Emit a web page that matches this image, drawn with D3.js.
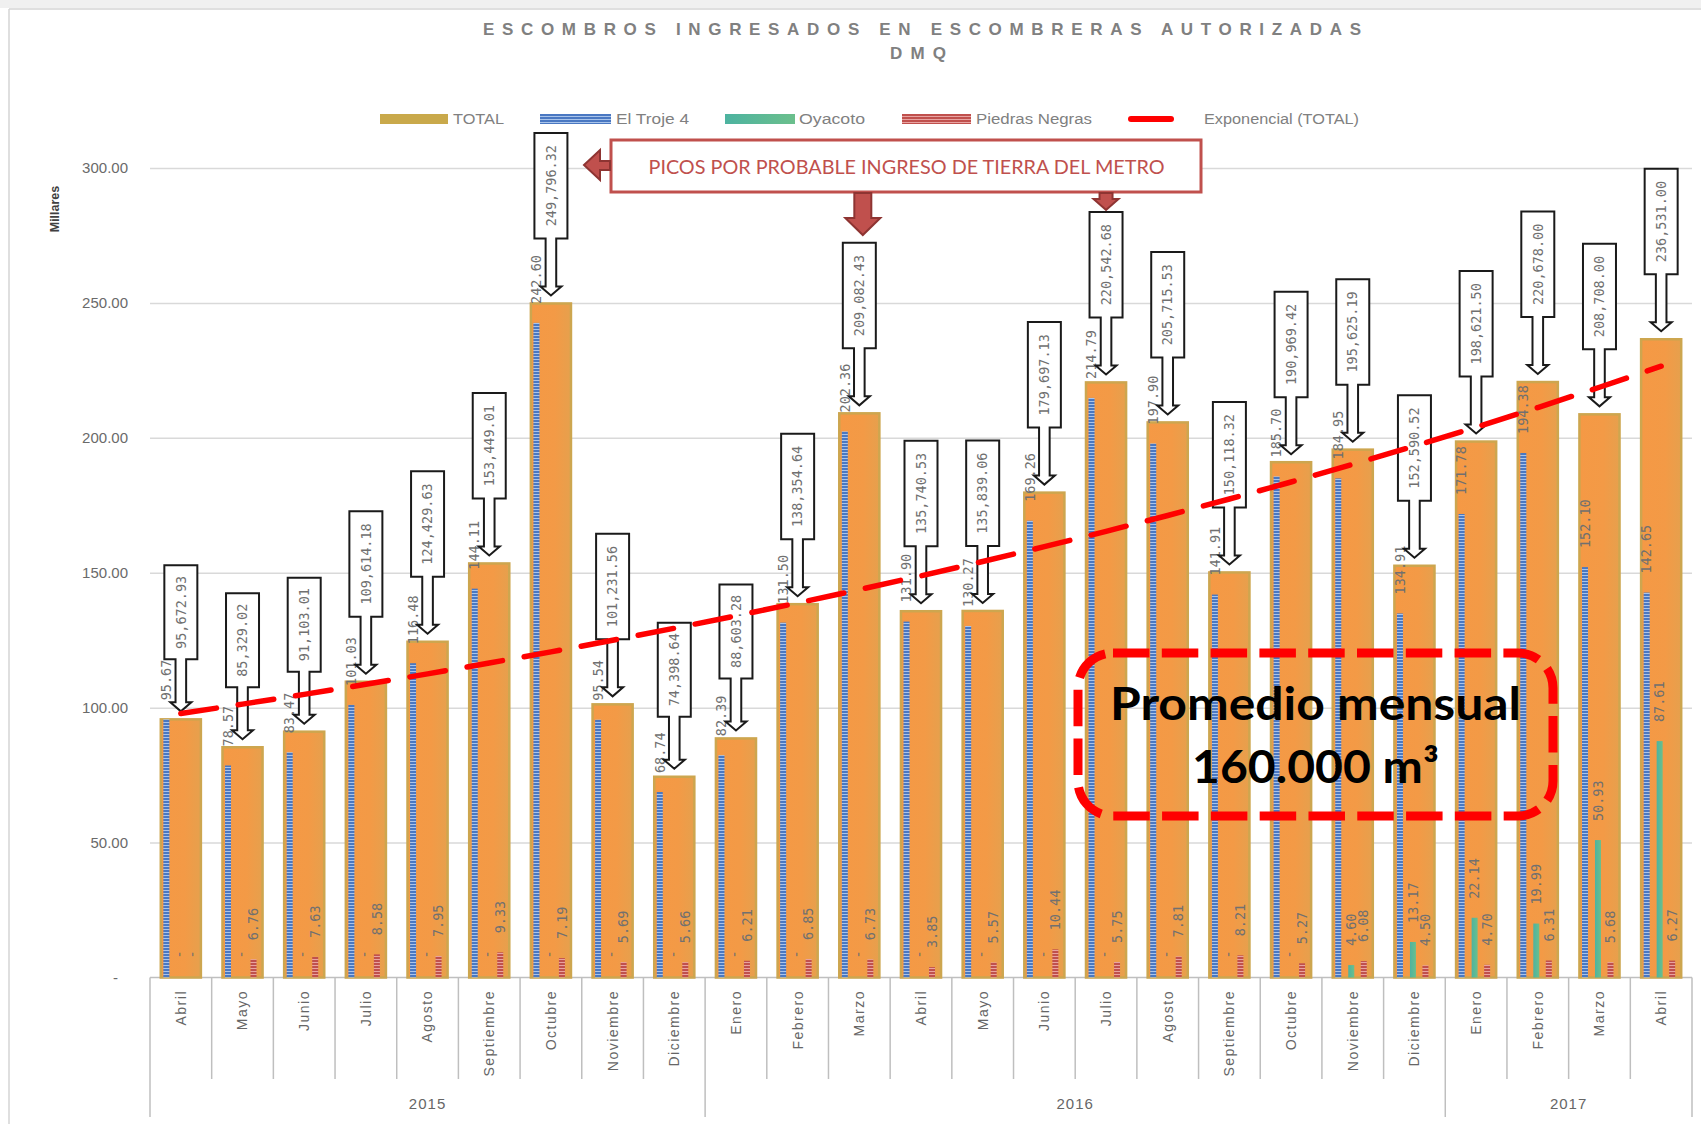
<!DOCTYPE html>
<html>
<head>
<meta charset="utf-8">
<script src="https://cdn.jsdelivr.net/npm/d3@7"></script>
<style>
  body { margin: 0; background: #ffffff; }
  svg { display: block; }
</style>
</head>
<body>
<svg id="chart" width="1701" height="1124"></svg>
<script>
// ---------------------------------------------------------------
// Data: escombros ingresados por mes (abril 2015 – abril 2017)
// ---------------------------------------------------------------
const months = ["Abril", "Mayo", "Junio", "Julio", "Agosto", "Septiembre", "Octubre", "Noviembre", "Diciembre",
  "Enero", "Febrero", "Marzo", "Abril", "Mayo", "Junio", "Julio", "Agosto", "Septiembre", "Octubre", "Noviembre", "Diciembre",
  "Enero", "Febrero", "Marzo", "Abril"];
const yearLabels = ["2015", "2016", "2017"];
const monthsPerYear = [9, 12, 4];

// TOTAL mensual (m³)
const totalValues = [95672.93, 85329.02, 91103.01, 109614.18, 124429.63, 153449.01, 249796.32, 101231.56, 74398.64,
  88603.28, 138354.64, 209082.43, 135740.53, 135839.06, 179697.13, 220542.68, 205715.53, 150118.32, 190969.42, 195625.19, 152590.52,
  198621.50, 220678.00, 208708.00, 236531.00];
// Por escombrera (miles de m³)
const elTroje4 = [95.67, 78.57, 83.47, 101.03, 116.48, 144.11, 242.60, 95.54, 68.74,
  82.39, 131.50, 202.36, 131.90, 130.27, 169.26, 214.79, 197.90, 141.91, 185.70, 184.95, 134.91,
  171.78, 194.38, 152.10, 142.65];
const oyacoto = [0, 0, 0, 0, 0, 0, 0, 0, 0,
  0, 0, 0, 0, 0, 0, 0, 0, 0, 0, 4.60, 13.17,
  22.14, 19.99, 50.93, 87.61];
const piedrasNegras = [0, 6.76, 7.63, 8.58, 7.95, 9.33, 7.19, 5.69, 5.66,
  6.21, 6.85, 6.73, 3.85, 5.57, 10.44, 5.75, 7.81, 8.21, 5.27, 6.08, 4.50,
  4.70, 6.31, 5.68, 6.27];
const yTicks = [0, 50, 100, 150, 200, 250, 300];
const legendNames = ["TOTAL", "El Troje 4", "Oyacoto", "Piedras Negras", "Exponencial (TOTAL)"];

// ---------------------------------------------------------------
// Layout
// ---------------------------------------------------------------
const plot = { left: 150, right: 1692, top: 168, bottom: 977.5 };
const numFont = "'DejaVu Sans Mono', monospace";
const textFont = "'Liberation Sans', Arial, sans-serif";
const grey = "#595959";

const svg = d3.select("#chart");
const defs = svg.append("defs");

function stripePattern(id, base, light) {
  const p = defs.append("pattern").attr("id", id)
    .attr("patternUnits", "userSpaceOnUse").attr("width", 8).attr("height", 3);
  p.append("rect").attr("width", 8).attr("height", 3).attr("fill", base);
  p.append("rect").attr("y", 2).attr("width", 8).attr("height", 1).attr("fill", light);
}
stripePattern("stripeBlue", "#4A78C2", "#A9C4EA");
stripePattern("stripeRed", "#C0504D", "#E8A3A1");

const totGrad = defs.append("linearGradient").attr("id", "totalFill")
  .attr("x1", 0).attr("x2", 1).attr("y1", 0).attr("y2", 0);
totGrad.append("stop").attr("offset", 0).attr("stop-color", "#F59945");
totGrad.append("stop").attr("offset", 0.6).attr("stop-color", "#F39A46");
totGrad.append("stop").attr("offset", 1).attr("stop-color", "#E6A04D");

const oyaGrad = defs.append("linearGradient").attr("id", "oyaFill")
  .attr("x1", 0).attr("x2", 1).attr("y1", 0).attr("y2", 0);
oyaGrad.append("stop").attr("offset", 0).attr("stop-color", "#4DB3A0");
oyaGrad.append("stop").attr("offset", 1).attr("stop-color", "#6BBF8C");

// chart frame
svg.append("rect").attr("x", 0).attr("y", 0).attr("width", 1701).attr("height", 8).attr("fill", "#f0f0f0");
svg.append("line").attr("x1", 9).attr("x2", 1701).attr("y1", 9).attr("y2", 9).attr("stroke", "#d4d4d4").attr("stroke-width", 1.5);
svg.append("line").attr("x1", 9).attr("x2", 9).attr("y1", 9).attr("y2", 1124).attr("stroke", "#d4d4d4").attr("stroke-width", 1.5);

// ---------------------------------------------------------------
// Scales
// ---------------------------------------------------------------
const x = d3.scaleBand().domain(d3.range(months.length)).range([plot.left, plot.right]).padding(0);
const y = d3.scaleLinear().domain([0, 300]).range([plot.bottom, plot.top]);
const bw = x.bandwidth();
const cx = i => x(i) + bw / 2;

// ---------------------------------------------------------------
// Title
// ---------------------------------------------------------------
const titleFont = "'Liberation Sans Narrow', 'Liberation Sans', sans-serif";
svg.append("text").attr("x", 922).attr("y", 35).attr("text-anchor", "middle")
  .attr("font-family", titleFont).attr("font-size", 17).attr("font-weight", "bold")
  .attr("fill", "#808080").attr("textLength", 878).attr("lengthAdjust", "spacing")
  .text("ESCOMBROS INGRESADOS  EN ESCOMBRERAS AUTORIZADAS");
svg.append("text").attr("x", 918).attr("y", 59).attr("text-anchor", "middle")
  .attr("font-family", titleFont).attr("font-size", 17).attr("font-weight", "bold")
  .attr("fill", "#808080").attr("textLength", 56).attr("lengthAdjust", "spacing")
  .text("DMQ");

// ---------------------------------------------------------------
// Legend
// ---------------------------------------------------------------
const legendLayout = [
  { sx: 380, sw: 68, tx: 453, tw: 51 },
  { sx: 540, sw: 71, tx: 616, tw: 73 },
  { sx: 725, sw: 70, tx: 799, tw: 66 },
  { sx: 902, sw: 69, tx: 976, tw: 116 },
  { sx: 1128, sw: 46, tx: 1204, tw: 155 }
];
const legendFills = ["#C9A94B", "url(#stripeBlue)", "url(#oyaFill)", "url(#stripeRed)", null];
const legendY = 119;
legendNames.forEach((name, k) => {
  const L = legendLayout[k];
  if (legendFills[k]) {
    svg.append("rect").attr("x", L.sx).attr("y", legendY - 5).attr("width", L.sw).attr("height", 10)
      .attr("fill", legendFills[k]);
  } else {
    svg.append("line").attr("x1", L.sx + 3).attr("x2", L.sx + L.sw - 3).attr("y1", legendY).attr("y2", legendY)
      .attr("stroke", "#FF0000").attr("stroke-width", 6).attr("stroke-linecap", "round");
  }
  svg.append("text").attr("x", L.tx).attr("y", legendY + 5).attr("font-family", textFont)
    .attr("font-size", 14).attr("fill", "#808080").attr("textLength", L.tw).attr("lengthAdjust", "spacingAndGlyphs")
    .text(name);
});

// ---------------------------------------------------------------
// Y axis with gridlines
// ---------------------------------------------------------------
const yAxis = svg.append("g").attr("transform", `translate(${plot.left},0)`)
  .call(d3.axisLeft(y).tickValues(yTicks)
    .tickSize(-(plot.right - plot.left)).tickPadding(22)
    .tickFormat(v => v === 0 ? "-" : d3.format(".2f")(v)));
yAxis.select(".domain").remove();
yAxis.selectAll(".tick line").attr("stroke", "#d9d9d9").attr("stroke-width", 1.5)
  .filter(d => d === 0).remove();
yAxis.selectAll(".tick text").attr("font-family", textFont).attr("font-size", 15).attr("fill", "#6a6a6a");
yAxis.selectAll(".tick text").filter(d => d === 0).attr("dx", -10);

svg.append("text").attr("transform", "translate(59,209) rotate(-90)").attr("text-anchor", "middle")
  .attr("font-family", textFont).attr("font-size", 12.5).attr("font-weight", "bold").attr("fill", "#404040")
  .text("Millares");

// ---------------------------------------------------------------
// X axis: months and years
// ---------------------------------------------------------------
svg.append("line").attr("x1", plot.left).attr("x2", plot.right).attr("y1", plot.bottom).attr("y2", plot.bottom)
  .attr("stroke", "#bfbfbf").attr("stroke-width", 1.5);

const yearStarts = [0];
monthsPerYear.forEach((c, k) => yearStarts.push(yearStarts[k] + c));
d3.range(months.length + 1).forEach(i => {
  const xx = i < months.length ? x(i) : plot.right;
  const isYear = yearStarts.includes(i);
  svg.append("line").attr("x1", xx).attr("x2", xx).attr("y1", plot.bottom).attr("y2", isYear ? 1117 : 1079)
    .attr("stroke", "#bfbfbf").attr("stroke-width", 1.5);
});
svg.append("g").selectAll("text").data(months).join("text")
  .attr("transform", (d, i) => `translate(${cx(i)},990) rotate(-90)`)
  .attr("dy", "0.35em").attr("text-anchor", "end")
  .attr("font-family", textFont).attr("font-size", 14).attr("letter-spacing", 1.5).attr("fill", "#666666")
  .text(d => d);
yearLabels.forEach((yr, k) => {
  const x0 = x(yearStarts[k]);
  const x1 = yearStarts[k + 1] < months.length ? x(yearStarts[k + 1]) : plot.right;
  svg.append("text").attr("x", (x0 + x1) / 2).attr("y", 1109).attr("text-anchor", "middle")
    .attr("font-family", textFont).attr("font-size", 15).attr("letter-spacing", 1).attr("fill", "#666666")
    .text(yr);
});

// ---------------------------------------------------------------
// Bars
// ---------------------------------------------------------------
const totalK = totalValues.map(v => v / 1000);
const totalW = bw * 0.65;
svg.append("g").selectAll("rect").data(totalK).join("rect")
  .attr("x", (d, i) => cx(i) - totalW / 2).attr("width", totalW)
  .attr("y", d => y(d)).attr("height", d => y(0) - y(d))
  .attr("fill", "url(#totalFill)").attr("stroke", "#CDA64F").attr("stroke-width", 2.5);

const innerW = 6;
const series = [
  { values: elTroje4, offset: -14.5, fill: "url(#stripeBlue)" },
  { values: oyacoto, offset: -1.5, fill: "url(#oyaFill)" },
  { values: piedrasNegras, offset: 11, fill: "url(#stripeRed)" }
];
series.forEach(s => {
  svg.append("g").selectAll("rect").data(s.values).join("rect")
    .attr("x", (d, i) => cx(i) + s.offset - innerW / 2).attr("width", innerW)
    .attr("y", d => y(d)).attr("height", d => y(0) - y(d))
    .attr("fill", s.fill);
});
series.forEach(s => {
  svg.append("g").selectAll("text").data(s.values).join("text")
    .attr("transform", (d, i) => `translate(${cx(i) + s.offset},${y(d) - 19}) rotate(-90)`)
    .attr("dy", "0.35em").attr("text-anchor", "start")
    .attr("font-family", numFont).attr("font-size", 13.5).attr("fill", "#707070")
    .text(d => d === 0 ? "-" : d3.format(".2f")(d));
});

// ---------------------------------------------------------------
// Callouts with the monthly total
// ---------------------------------------------------------------
const calloutFmt = d3.format(",.2f");
const callouts = svg.append("g");
totalK.forEach((v, i) => {
  const label = calloutFmt(totalValues[i]);
  const n = label.length;
  const boxH = 11.5 * n - 9.5;
  const lift = n > 9 ? 65 : 60;
  const c = cx(i);
  const top = y(v);
  const tip = top - 8;
  const bBot = top - lift;
  const bTop = bBot - boxH;
  const hw = 16.5, sw = 5.3, hh = 10.5, headH = 9;
  const p = `M${c - hw},${bTop}H${c + hw}V${bBot}H${c + sw}V${tip - headH}H${c + hh}L${c},${tip}` +
    `L${c - hh},${tip - headH}H${c - sw}V${bBot}H${c - hw}Z`;
  callouts.append("path").attr("d", p).attr("fill", "#ffffff").attr("stroke", "#1a1a1a")
    .attr("stroke-width", 2).attr("stroke-linejoin", "miter");
  callouts.append("text").attr("transform", `translate(${c},${(bTop + bBot) / 2}) rotate(-90)`)
    .attr("dy", "0.35em").attr("text-anchor", "middle")
    .attr("font-family", numFont).attr("font-size", 13.5).attr("fill", "#707070")
    .text(label);
});

// ---------------------------------------------------------------
// Exponential trend of TOTAL (least squares on ln y)
// ---------------------------------------------------------------
const tIdx = d3.range(1, totalK.length + 1);
const lnY = totalK.map(v => Math.log(v));
const mT = d3.mean(tIdx), mL = d3.mean(lnY);
const slope = d3.sum(tIdx, (t, k) => (t - mT) * (lnY[k] - mL)) / d3.sum(tIdx, t => (t - mT) ** 2);
const coef = Math.exp(mL - slope * mT);
const trendPts = tIdx.map((t, k) => [cx(k), y(coef * Math.exp(slope * t))]);
svg.append("path").attr("d", d3.line()(trendPts)).attr("fill", "none")
  .attr("stroke", "#FF0000").attr("stroke-width", 5.5).attr("stroke-linecap", "round")
  .attr("stroke-dasharray", "36 22");

// ---------------------------------------------------------------
// Annotation: peaks
// ---------------------------------------------------------------
const ann = svg.append("g");
const arrowFill = "#C0504D", arrowLine = "#8E3432";
ann.append("rect").attr("x", 611).attr("y", 140).attr("width", 590).attr("height", 52)
  .attr("fill", "#ffffff").attr("stroke", "#C0504D").attr("stroke-width", 3);
ann.append("text").attr("x", 906.5).attr("y", 173.5).attr("text-anchor", "middle")
  .attr("font-family", "Lato, 'Open Sans', sans-serif").attr("font-size", 19.5).attr("fill", "#C0504D")
  .attr("textLength", 516).attr("lengthAdjust", "spacingAndGlyphs")
  .text("PICOS POR PROBABLE INGRESO DE TIERRA DEL METRO");
// left arrow towards October 2015
ann.append("path").attr("d", "M584,165L600,150V161H610V170H600V180Z")
  .attr("fill", arrowFill).attr("stroke", arrowLine).attr("stroke-width", 2);
// down arrows towards March and July 2016
function downArrow(c, y0, shaftEnd, tipY, sw, hw) {
  return `M${c - sw},${y0}H${c + sw}V${shaftEnd}H${c + hw}L${c},${tipY}L${c - hw},${shaftEnd}H${c - sw}Z`;
}
ann.append("path").attr("d", downArrow(cx(11) + 3.5, 193, 218, 235, 8.5, 17.5))
  .attr("fill", arrowFill).attr("stroke", arrowLine).attr("stroke-width", 2);
ann.append("path").attr("d", downArrow(cx(15), 193, 199, 210, 6.5, 12.5))
  .attr("fill", arrowFill).attr("stroke", arrowLine).attr("stroke-width", 2);

// ---------------------------------------------------------------
// Monthly average note
// ---------------------------------------------------------------
const note = svg.append("g");
note.append("rect").attr("x", 1078).attr("y", 653).attr("width", 475).attr("height", 163)
  .attr("rx", 35).attr("ry", 35).attr("fill", "none")
  .attr("stroke", "#FF0000").attr("stroke-width", 9).attr("stroke-dasharray", "36.5 12.3");
note.append("text").attr("x", 1315.5).attr("y", 720).attr("text-anchor", "middle")
  .attr("font-family", "Lato, 'Open Sans', sans-serif").attr("font-weight", 700).attr("font-size", 45)
  .attr("fill", "#000000").attr("textLength", 411).attr("lengthAdjust", "spacingAndGlyphs")
  .text("Promedio mensual");
note.append("text").attr("x", 1315.5).attr("y", 783).attr("text-anchor", "middle")
  .attr("font-family", "Lato, 'Open Sans', sans-serif").attr("font-weight", 700).attr("font-size", 45)
  .attr("fill", "#000000").attr("textLength", 247).attr("lengthAdjust", "spacingAndGlyphs")
  .text("160.000 m³");
</script>
</body>
</html>
